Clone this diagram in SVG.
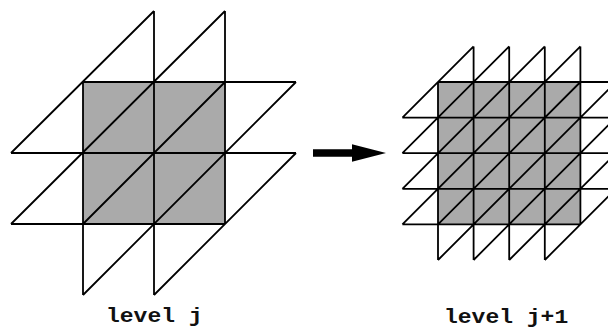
<svg xmlns="http://www.w3.org/2000/svg" width="608" height="327" viewBox="0 0 608 327">
<style>
.fill{fill:#aaaaaa;stroke:none}
.mesh{fill:none;stroke:#000;stroke-width:1.8;stroke-linecap:butt;stroke-linejoin:round}
.label{font-family:"Liberation Mono",monospace;font-weight:bold;font-size:20px;fill:#111}
</style>
<g id="level-j">
<rect class="fill" x="83" y="82" width="142" height="142"/>
<path class="mesh" d="M83 82H296M11 153H296M11 224H225M83 82V295M154 11V295M225 11V224M11 153L154 11M11 224L225 11M83 224L225 82M83 295L296 82M154 295L296 153"/>
<text class="label" transform="translate(106 321.500) scale(1.15 1)">level j</text>
</g>
<g id="arrow">
<path fill="#000" d="M313 149.300H352V144.300L386 153L352 161.700V156.700H313Z"/>
</g>
<g id="level-j1">
<rect class="fill" x="438" y="82" width="142.400" height="142.400"/>
<path class="mesh" d="M438 82H616M402.400 117.600H616M402.400 153.200H616M402.400 188.800H616M402.400 224.400H580.400M438 82V260M473.600 46.400V260M509.200 46.400V260M544.800 46.400V260M580.400 46.400V224.400M402.400 117.600L473.600 46.400M402.400 153.200L509.200 46.400M402.400 188.800L544.800 46.400M402.400 224.400L580.400 46.400M438 224.400L580.400 82M438 260L616 82M473.600 260L616 117.600M509.200 260L616 153.200M544.800 260L616 188.800"/>
<text class="label" transform="translate(444 322.500) scale(1.15 1)">level j+1</text>
</g>
</svg>
